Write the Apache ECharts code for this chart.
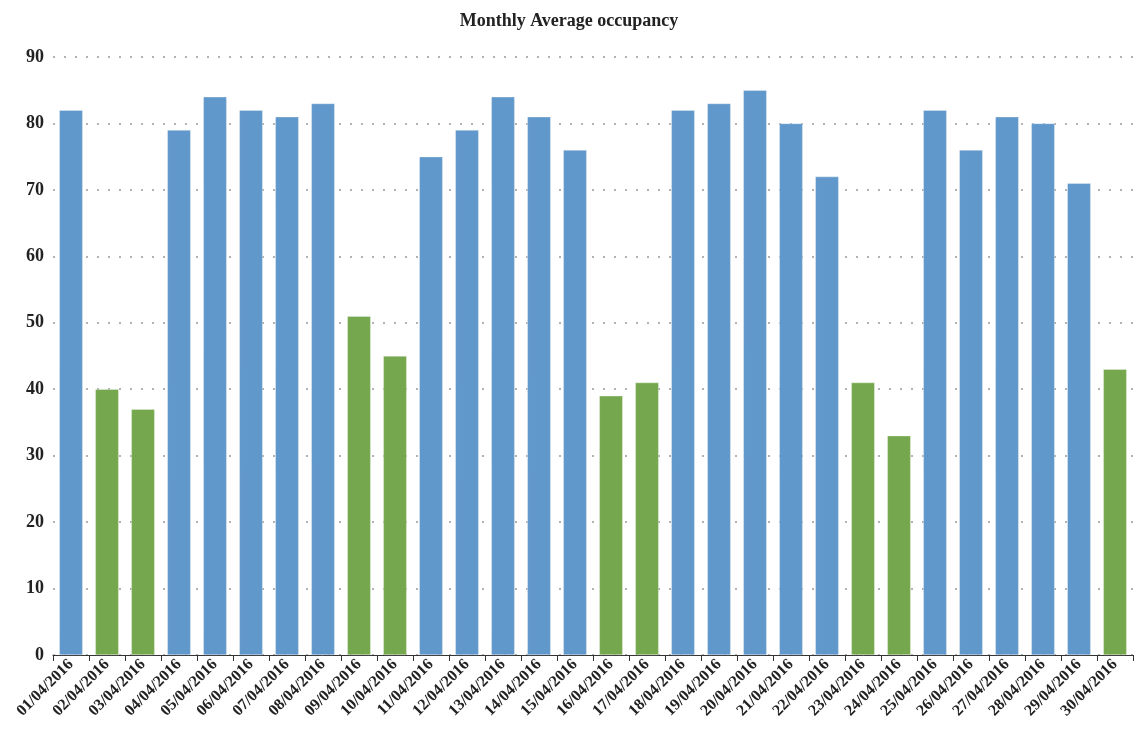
<!DOCTYPE html>
<html>
<head>
<meta charset="utf-8">
<script src="https://cdn.jsdelivr.net/npm/echarts@6/dist/echarts.min.js"></script>
<style>
html,body{margin:0;padding:0;background:#fff;}
#main{width:1138px;height:736px;}
</style>
</head>
<body>
<div id="main"></div>
<script>
const categories = ["01/04/2016","02/04/2016","03/04/2016","04/04/2016","05/04/2016","06/04/2016","07/04/2016","08/04/2016","09/04/2016","10/04/2016","11/04/2016","12/04/2016","13/04/2016","14/04/2016","15/04/2016","16/04/2016","17/04/2016","18/04/2016","19/04/2016","20/04/2016","21/04/2016","22/04/2016","23/04/2016","24/04/2016","25/04/2016","26/04/2016","27/04/2016","28/04/2016","29/04/2016","30/04/2016"];
const occupancy = [82,40,37,79,84,82,81,83,51,45,75,79,84,81,76,39,41,82,83,85,80,72,41,33,82,76,81,80,71,43];
const weekend = [0,1,1,0,0,0,0,0,1,1,0,0,0,0,0,1,1,0,0,0,0,0,1,1,0,0,0,0,0,1];
const yTicks = [0,10,20,30,40,50,60,70,80,90];

const BLUE = '#6198CB', GREEN = '#75A84E';
const serif = '"Liberation Serif","DejaVu Serif",serif';

const chart = echarts.init(document.getElementById('main'));
chart.setOption({
  animation:false,
  backgroundColor:'#fff',
  title:{text:'Monthly Average occupancy',left:'center',top:7,
    textStyle:{fontFamily:serif,fontWeight:'bold',fontSize:18,color:'#222'}},
  grid:{left:53,right:5,top:57,bottom:81,containLabel:false},
  xAxis:{type:'category',data:categories,
    axisLine:{lineStyle:{color:'#333',width:1}},
    axisTick:{show:true,length:6,lineStyle:{color:'#333'}},
    axisLabel:{rotate:45,interval:0,margin:7,fontFamily:serif,fontWeight:'bold',fontSize:16,color:'#222'}},
  yAxis:{type:'value',min:yTicks[0],max:yTicks[yTicks.length-1],interval:10,
    axisLine:{show:false},axisTick:{show:false},
    axisLabel:{margin:9,fontFamily:serif,fontWeight:'bold',fontSize:18,color:'#222'},
    splitLine:{show:true,lineStyle:{type:[2,9],color:'#999',width:1.5}}},
  series:[{type:'bar',barWidth:'65%',
    data:occupancy.map((v,i)=>({value:v,itemStyle:{color:weekend[i]?GREEN:BLUE}})),
    itemStyle:{borderColor:'rgba(255,255,255,0.6)',borderWidth:0.5}}]
});
</script>
</body>
</html>
